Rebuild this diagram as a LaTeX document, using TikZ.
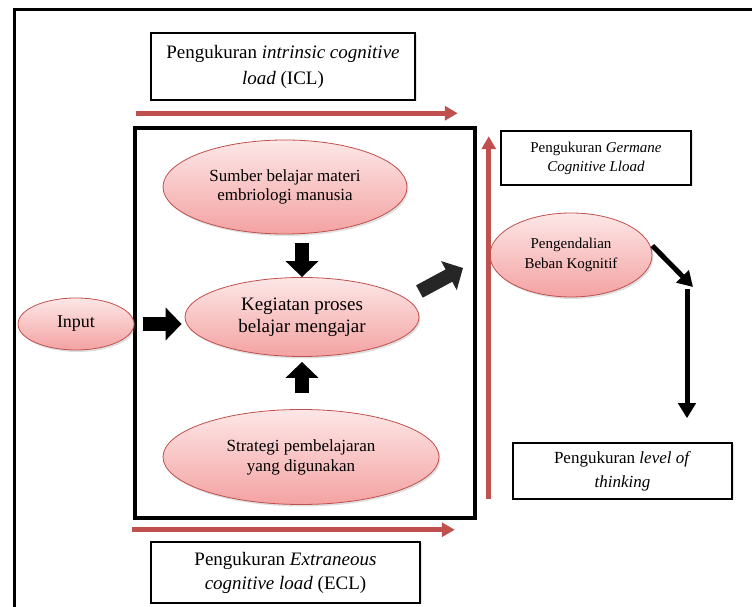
\documentclass[tikz,border=0pt]{standalone}
\usepackage{fontspec}
\setmainfont{Liberation Serif}
\usetikzlibrary{arrows.meta,shapes.geometric,shadows}
\definecolor{merah}{HTML}{C0504D}
\definecolor{pinkatas}{HTML}{FDE7E7}
\definecolor{pinkbawah}{HTML}{F4A2A2}
\begin{document}
\begin{tikzpicture}[x=1pt,y=1pt,
  elips/.style={ellipse,draw=merah,line width=0.8pt,top color=pinkatas,bottom color=pinkbawah,
    drop shadow={opacity=0.25,shadow xshift=1.5pt,shadow yshift=-2pt},inner sep=0pt,align=center},
  kotakteks/.style={rectangle,draw,fill=white,inner sep=0pt,align=center,
    drop shadow={opacity=0.2,shadow xshift=1.5pt,shadow yshift=-1.5pt}},
  panahblok/.style={line width=14pt,-{Triangle[length=16pt,width=32pt]}},
  panahmerah/.style={merah,line width=5pt,-{Triangle[length=13pt,width=14pt]}},
  panahhitam/.style={line width=5pt,-{Triangle[length=15pt,width=17pt]}}]
\useasboundingbox (0,0) rectangle (752,607);
\fill[white] (0,0) rectangle (752,607);
% bingkai luar
\draw[line width=3pt] (14,-10) -- (14,597) -- (770,597);
% kotak proses
\node[draw,line width=3.5pt,minimum width=340pt,minimum height=390pt,inner sep=0pt] (kotak) at (305,284) {};
% kotak pengukuran
\node[kotakteks,line width=2.5pt,minimum width=264pt,minimum height=67pt,font=\fontsize{19}{26}\selectfont] (icl) at (283,540.5)
  {Pengukuran \textit{intrinsic cognitive}\\ \textit{load} (ICL)};
\node[kotakteks,line width=1.5pt,minimum width=190pt,minimum height=54pt,font=\fontsize{15}{19}\selectfont] (germane) at (596,449)
  {Pengukuran \textit{Germane}\\ \textit{Cognitive Lload}};
\node[kotakteks,line width=1.5pt,minimum width=219pt,minimum height=56pt,font=\fontsize{17}{24}\selectfont] (level) at (622.5,136)
  {Pengukuran \textit{level of}\\ \textit{thinking}};
\node[kotakteks,line width=2.5pt,minimum width=269pt,minimum height=61pt,font=\fontsize{19}{24}\selectfont] (ecl) at (285.5,34.5)
  {Pengukuran \textit{Extraneous}\\ \textit{cognitive load} (ECL)};
% elips
\node[elips,minimum width=116pt,minimum height=52pt,font=\fontsize{18}{22}\selectfont] (input) at (76,283) {Input};
\node[elips,minimum width=244pt,minimum height=94pt,font=\fontsize{17}{19}\selectfont] (sumber) at (285,420)
  {Sumber belajar materi\\ embriologi manusia};
\node[elips,minimum width=234pt,minimum height=79pt,font=\fontsize{19}{22}\selectfont] (kegiatan) at (302,290)
  {Kegiatan proses\\ belajar mengajar};
\node[elips,minimum width=276pt,minimum height=95pt,font=\fontsize{17}{20}\selectfont] (strategi) at (301,150)
  {Strategi pembelajaran\\ yang digunakan};
\node[elips,minimum width=162pt,minimum height=84pt,font=\fontsize{15}{20}\selectfont] (kendali) at (571,352)
  {Pengendalian\\ Beban Kognitif};
% titik bantu
\coordinate (ia) at ([shift={(3,13)}]kotak.north west);
\coordinate (ib) at ([shift={(-19,13)}]kotak.north east);
\coordinate (ga) at ([shift={(12,21)}]kotak.south east);
\coordinate (gb) at ([shift={(12,-10)}]kotak.north east);
\coordinate (ea) at ([shift={(-1,-10)}]kotak.south west);
\coordinate (eb) at ([shift={(-22,-10)}]kotak.south east);
\coordinate (ujung) at (463,339);
\coordinate (turun) at (693,320);
\coordinate (belok) at (687,318);
% panah merah
\draw[panahmerah] (ia) -- (ib);
\draw[panahmerah] (ga) -- (gb);
\draw[panahmerah] (ea) -- (eb);
% panah hitam
\draw[panahblok,shorten <=9pt,shorten >=3pt] (input.east) -- (input.east -| kegiatan.west);
\draw[panahblok,shorten <=9pt] (kegiatan.north |- sumber.south) -- (kegiatan.north);
\draw[panahblok,shorten <=16pt,shorten >=5pt] (kegiatan.south |- strategi.north) -- (kegiatan.south);
\draw[panahblok,black!85,shorten <=15pt] (kegiatan.10) -- (ujung);
\draw[panahhitam,shorten <=6pt] (kendali.10) -- (turun);
\draw[panahhitam] (belok) -- ([yshift=24pt]level.north -| belok);
\end{tikzpicture}
\end{document}
